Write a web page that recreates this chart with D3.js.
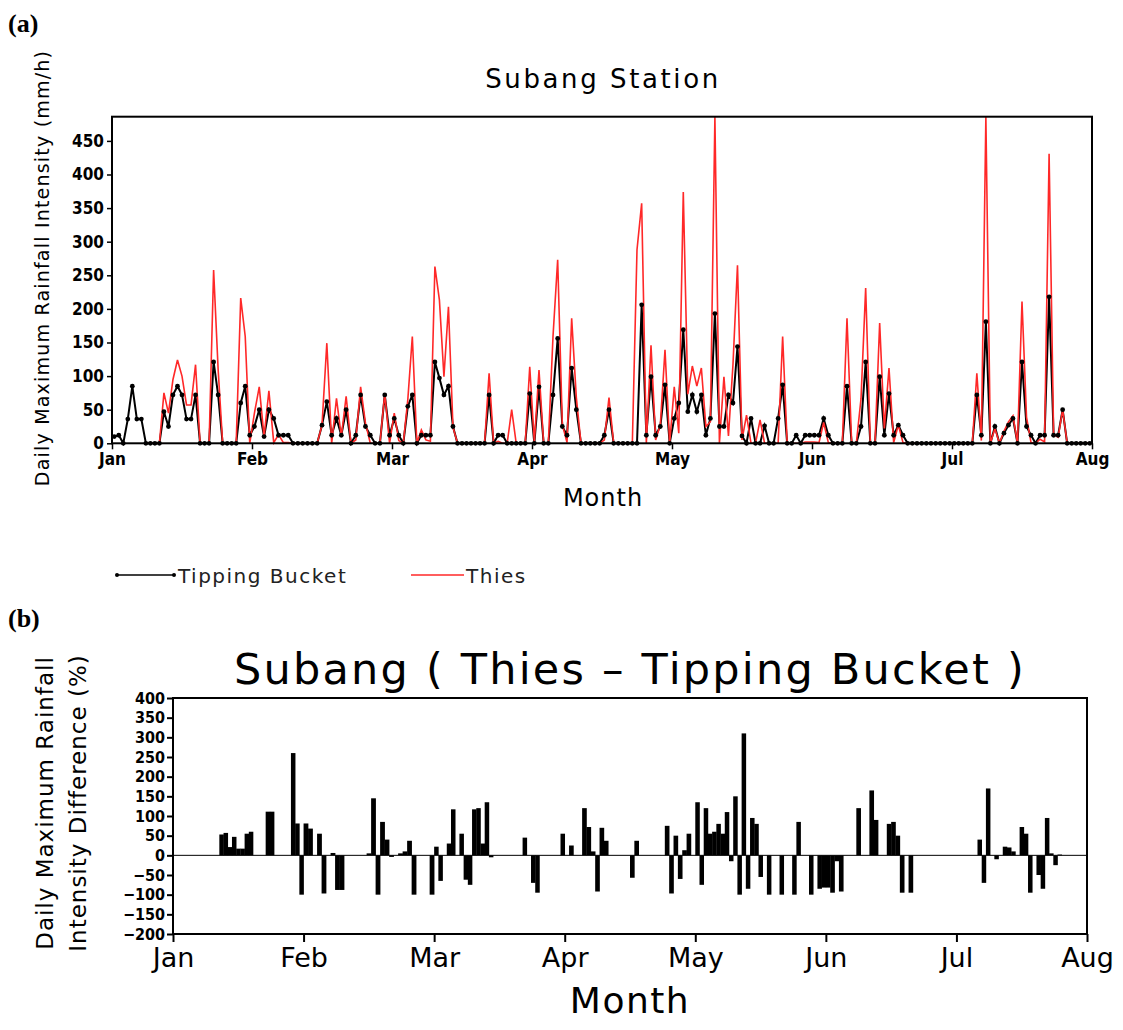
<!DOCTYPE html>
<html>
<head>
<meta charset="utf-8">
<script src="https://cdn.jsdelivr.net/npm/d3@7"></script>
<style>
  body { margin: 0; background: #fff; }
  svg text { font-family: "DejaVu Sans", sans-serif; fill: #000; }
  .ta .tick text { font-family: "DejaVu Sans Condensed", "DejaVu Sans", sans-serif; font-weight: bold; font-size: 17px; }
  .tb .tick text { font-family: "DejaVu Sans Condensed", "DejaVu Sans", sans-serif; font-weight: bold; font-size: 16px; }
  .tbx .tick text { font-family: "DejaVu Sans", sans-serif; font-size: 27px; }
</style>
</head>
<body>
<script>
var months = ["Jan", "Feb", "Mar", "Apr", "May", "Jun", "Jul", "Aug"];
var monthDays = [31, 29, 31, 30, 31, 30, 31];

// daily maximum rainfall intensity (mm/h), one row per month, Jan..Jul 2012
var tippingBucket = [
  [10,12,0,36,85,36,36,0,0,0,0,47,25,72,85,72,36,36,72,0,0,0,121,72,0,0,0,0,60,85,12],
  [25,50,10,50,37,12,12,12,0,0,0,0,0,0,27,62,12,37,12,50,0,12,72,25,12,0,0,72,12],
  [37,12,0,55,72,0,12,12,12,121,97,72,85,25,0,0,0,0,0,0,0,72,0,12,12,0,0,0,0,0,74],
  [0,84,0,0,72,156,25,12,112,50,0,0,0,0,0,12,50,0,0,0,0,0,0,206,12,99,12,25,87,0],
  [37,60,169,47,72,47,72,12,37,193,25,25,72,60,144,11,0,37,0,0,26,0,0,37,87,0,0,12,0,12,12],
  [12,12,37,12,0,0,0,85,0,0,25,121,0,0,99,12,74,12,27,12,0,0,0,0,0,0,0,0,0,0],
  [0,0,0,0,0,72,12,181,0,25,0,15,27,37,0,121,25,12,0,12,12,218,12,12,50,0,0,0,0,0,0]
];
var thies = [
  [null,null,null,null,null,null,null,0,0,0,0,75,45,95,124,100,57,57,117,0,0,0,258,110,0,0,0,0,216,159,0],
  [45,84,10,78,1,13,1,1,0,0,0,0,0,0,27,149,0,67,10,70,0,5,84,30,0,0,0,74,0],
  [45,4,0,65,159,0,20,5,3,263,213,99,203,24,0,0,0,0,0,0,0,104,0,3,0,0,50,0,0,0,114],
  [2,109,0,0,159,273,28,1,186,68,0,0,0,0,0,5,68,0,0,0,0,0,288,357,0,146,5,28,139,0],
  [84,15,374,73,115,85,112,25,32,486,0,99,11,117,265,5,42,0,0,35,0,0,0,0,159,0,0,0,0,2,2],
  [2,1,31,1,0,0,0,186,0,0,66,231,0,0,179,22,112,1,27,1,0,0,0,0,0,0,0,0,0,0],
  [0,0,0,0,0,104,4,486,0,22,0,18,32,41,0,211,39,1,0,6,2,431,13,9,50,0,0,0,0,0,0]
];
var intensityTicks = [0, 50, 100, 150, 200, 250, 300, 350, 400, 450];

// (Thies - Tipping Bucket) difference in %
var diffDates = [
  "2012-01-12","2012-01-13","2012-01-14","2012-01-15","2012-01-16","2012-01-17","2012-01-18","2012-01-19",
  "2012-01-23","2012-01-24","2012-01-29","2012-01-30","2012-01-31",
  "2012-02-01","2012-02-02","2012-02-04","2012-02-05","2012-02-07","2012-02-08","2012-02-09",
  "2012-02-15","2012-02-16","2012-02-17","2012-02-18","2012-02-19","2012-02-20","2012-02-22","2012-02-23","2012-02-24","2012-02-25","2012-02-29",
  "2012-03-01","2012-03-02","2012-03-04","2012-03-05","2012-03-07","2012-03-08","2012-03-09","2012-03-10","2012-03-11","2012-03-12","2012-03-13","2012-03-14",
  "2012-03-22","2012-03-24","2012-03-25","2012-03-31",
  "2012-04-02","2012-04-05","2012-04-06","2012-04-07","2012-04-08","2012-04-09","2012-04-10","2012-04-16","2012-04-17",
  "2012-04-24","2012-04-25","2012-04-26","2012-04-27","2012-04-28","2012-04-29",
  "2012-05-01","2012-05-02","2012-05-03","2012-05-04","2012-05-05","2012-05-06","2012-05-07","2012-05-08","2012-05-09","2012-05-10",
  "2012-05-11","2012-05-12","2012-05-13","2012-05-14","2012-05-15","2012-05-16","2012-05-18","2012-05-21","2012-05-24","2012-05-25",
  "2012-05-28","2012-05-30","2012-05-31",
  "2012-06-01","2012-06-02","2012-06-03","2012-06-04","2012-06-08","2012-06-11","2012-06-12","2012-06-15","2012-06-16","2012-06-17","2012-06-18","2012-06-20",
  "2012-07-06","2012-07-07","2012-07-08","2012-07-10","2012-07-12","2012-07-13","2012-07-14","2012-07-16","2012-07-17","2012-07-18",
  "2012-07-20","2012-07-21","2012-07-22","2012-07-23","2012-07-24","2012-07-25"
];
var diffPct = [
  53,57,21,47,17,17,55,60,
  111,111,260,81,-100,
  81,68,55,-97,6,-88,-88,
  5,145,-100,85,40,-4,5,10,37,-100,-100,
  22,-65,30,117,55,-62,-75,117,120,30,135,-5,
  45,-70,-95,55,
  25,120,72,10,-92,70,37,-57,37,
  75,-97,50,-60,13,55,
  135,-75,120,55,60,80,55,110,-15,150,
  -100,310,-85,95,80,-55,-100,-100,-100,85,
  -100,-85,-82,
  -82,-95,-15,-92,120,165,90,80,85,50,-95,-95,
  40,-70,170,-10,22,20,10,72,55,-95,
  -50,-85,95,5,-25,2
];
var diffTicks = [-200,-150,-100,-50,0,50,100,150,200,250,300,350,400];

var WIDTH = 1123;
var HEIGHT = 1030;

var svg = d3.select("body").append("svg")
  .attr("width", WIDTH)
  .attr("height", HEIGHT);

var translate = function (x, y) {
  return "translate(" + x + "," + y + ")";
};

// one point per day, placed at mid-day inside its month (months equally wide)
var days = [];
monthDays.forEach(function (n, m) {
  for (var d = 1; d <= n; d++) {
    days.push({ pos: m + (d - 0.5) / n, tb: tippingBucket[m][d - 1], th: thies[m][d - 1] });
  }
});

// ---------- panel (a) ----------
var A = { left: 112, right: 1092, top: 116.7, bottom: 443.3 };
var xA = d3.scaleLinear().domain([0, 7]).range([A.left, A.right]);
var yA = d3.scaleLinear().domain([0, 486]).range([A.bottom, A.top]);

svg.append("text").attr("x", 8).attr("y", 32)
  .style("font-family", "'Liberation Serif', serif").style("font-weight", "bold").style("font-size", "26px")
  .text("(a)");

svg.append("text").attr("x", 603).attr("y", 88).attr("text-anchor", "middle")
  .style("font-size", "26px").style("letter-spacing", "2.6px")
  .text("Subang Station");

svg.append("g").attr("class", "ta")
  .attr("transform", translate(A.left, 0))
  .call(d3.axisLeft(yA).tickValues(intensityTicks).tickSize(5).tickPadding(3))
  .call(function (g) { g.select(".domain").remove(); })
  .call(function (g) { g.selectAll(".tick line").attr("stroke-width", 1.5); });

svg.append("g").attr("class", "ta")
  .attr("transform", translate(0, A.bottom))
  .call(d3.axisBottom(xA).tickValues(d3.range(0, 8)).tickFormat(function (i) { return months[i]; }).tickSize(6).tickPadding(4))
  .call(function (g) { g.select(".domain").remove(); })
  .call(function (g) { g.selectAll(".tick line").attr("stroke-width", 1.5); });

var tbLine = d3.line().x(function (d) { return xA(d.pos); }).y(function (d) { return yA(d.tb); });
var thLine = d3.line()
  .defined(function (d) { return d.th !== null; })
  .x(function (d) { return xA(d.pos); }).y(function (d) { return yA(d.th); });

svg.append("path").datum(days)
  .attr("d", tbLine).attr("fill", "none").attr("stroke", "#000").attr("stroke-width", 2);
svg.append("path").datum(days)
  .attr("d", thLine).attr("fill", "none").attr("stroke", "#ff2828").attr("stroke-width", 1.6);
svg.append("g").selectAll("circle")
  .data(days).enter().append("circle")
  .attr("cx", function (d) { return xA(d.pos); })
  .attr("cy", function (d) { return yA(d.tb); })
  .attr("r", 2.4).attr("fill", "#000");

svg.append("rect")
  .attr("x", A.left).attr("y", A.top).attr("width", A.right - A.left).attr("height", A.bottom - A.top)
  .attr("fill", "none").attr("stroke", "#000").attr("stroke-width", 2);

svg.append("text")
  .attr("transform", translate(42, 268) + " rotate(-90)")
  .attr("text-anchor", "middle").attr("dy", "0.35em")
  .style("font-size", "19px").style("letter-spacing", "1.2px")
  .text("Daily Maximum Rainfall Intensity (mm/h)");

svg.append("text").attr("x", 603).attr("y", 506).attr("text-anchor", "middle")
  .style("font-size", "24px").style("letter-spacing", "1px")
  .text("Month");

// legend
var legend = svg.append("g").attr("transform", translate(117, 575));
legend.append("line").attr("x1", 0).attr("x2", 57).attr("stroke", "#000").attr("stroke-width", 1.5);
legend.selectAll("circle").data([0, 57]).enter().append("circle")
  .attr("cx", function (d) { return d; }).attr("r", 2).attr("fill", "#000");
legend.append("text").attr("x", 61).attr("y", 8)
  .style("font-size", "20px").style("letter-spacing", "1.5px").style("fill", "#222")
  .text("Tipping Bucket");
legend.append("line").attr("x1", 294).attr("x2", 347).attr("stroke", "#ff2828").attr("stroke-width", 1.5);
legend.append("text").attr("x", 349).attr("y", 8)
  .style("font-size", "20px").style("letter-spacing", "1.5px").style("fill", "#222")
  .text("Thies");

// ---------- panel (b) ----------
var B = { left: 173, right: 1087, top: 698, bottom: 934 };
var xB = d3.scaleLinear().domain([0, 7]).range([B.left, B.right]);
var yB = d3.scaleLinear().domain([-200, 400]).range([B.bottom, B.top]);
var parseDate = d3.timeParse("%Y-%m-%d");

svg.append("text").attr("x", 8).attr("y", 627)
  .style("font-family", "'Liberation Serif', serif").style("font-weight", "bold").style("font-size", "26px")
  .text("(b)");

svg.append("text").attr("x", 630).attr("y", 684).attr("text-anchor", "middle")
  .style("font-size", "43px").style("letter-spacing", "2.2px")
  .text("Subang ( Thies \u2013 Tipping Bucket )");

var bars = diffDates.map(function (s, i) {
  var dt = parseDate(s);
  var m = dt.getMonth(), d = dt.getDate(), n = monthDays[m];
  return { x0: m + (d - 1) / n, x1: m + d / n, v: diffPct[i] };
});

svg.append("g").selectAll("rect")
  .data(bars).enter().append("rect")
  .attr("x", function (d) { return xB(d.x0); })
  .attr("width", function (d) { return xB(d.x1) - xB(d.x0) + 0.3; })
  .attr("y", function (d) { return yB(Math.max(0, d.v)); })
  .attr("height", function (d) { return Math.abs(yB(d.v) - yB(0)); })
  .attr("fill", "#000");

svg.append("line")
  .attr("x1", B.left).attr("x2", B.right).attr("y1", yB(0)).attr("y2", yB(0))
  .attr("stroke", "#000").attr("stroke-width", 1);

svg.append("g").attr("class", "tb")
  .attr("transform", translate(B.left, 0))
  .call(d3.axisLeft(yB).tickValues(diffTicks).tickSize(6).tickPadding(2))
  .call(function (g) { g.select(".domain").remove(); })
  .call(function (g) { g.selectAll(".tick line").attr("stroke-width", 2); });

svg.append("g").attr("class", "tbx")
  .attr("transform", translate(0, B.bottom))
  .call(d3.axisBottom(xB).tickValues(d3.range(0, 8)).tickFormat(function (i) { return months[i]; }).tickSize(8).tickPadding(6))
  .call(function (g) { g.select(".domain").remove(); })
  .call(function (g) { g.selectAll(".tick line").attr("stroke-width", 2); });

svg.append("rect")
  .attr("x", B.left).attr("y", B.top).attr("width", B.right - B.left).attr("height", B.bottom - B.top)
  .attr("fill", "none").attr("stroke", "#000").attr("stroke-width", 2);

var yLabB = svg.append("text")
  .attr("transform", translate(45, 803) + " rotate(-90)")
  .attr("text-anchor", "middle")
  .style("font-size", "23px").style("letter-spacing", "1px");
yLabB.append("tspan").attr("x", 0).attr("dy", "0.35em").text("Daily Maximum Rainfall");
yLabB.append("tspan").attr("x", 0).attr("dy", "1.45em").text("Intensity Difference (%)");

svg.append("text").attr("x", 630).attr("y", 1013).attr("text-anchor", "middle")
  .style("font-size", "36px").style("letter-spacing", "1.5px")
  .text("Month");
</script>
</body>
</html>
